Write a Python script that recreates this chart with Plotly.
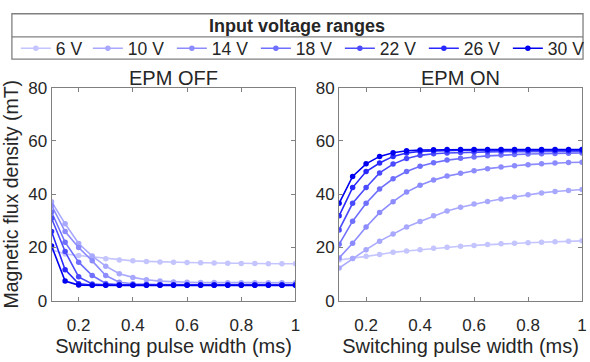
import plotly.graph_objects as go

x_ms = [0.10, 0.15, 0.20, 0.25, 0.30, 0.35, 0.40, 0.45, 0.50, 0.55,
        0.60, 0.65, 0.70, 0.75, 0.80, 0.85, 0.90, 0.95, 1.00]

voltages = ["6 V", "10 V", "14 V", "18 V", "22 V", "26 V", "30 V"]
colors = ["#c4c4ff", "#a8a8ff", "#8c8cff", "#7070ff", "#4a4aff", "#2828ff", "#0000f0"]
legend_widths = [27, 39, 39, 39, 39, 39, 37]

# EPM OFF (mT)
off_6 = [19.2, 17.6, 17.0, 16.5, 15.8, 15.3, 15.0, 14.8, 14.6, 14.5,
         14.4, 14.3, 14.2, 14.1, 14.0, 14.0, 13.9, 13.9, 13.9]
off_10 = [37.2, 28.9, 21.5, 16.8, 13.0, 10.2, 8.8, 7.9, 7.4, 7.1,
          7.0, 6.9, 6.9, 6.8, 6.8, 6.8, 6.8, 6.8, 6.8]
off_14 = [35.8, 26.0, 20.0, 15.0, 9.5, 7.0, 6.4, 6.2, 6.1, 6.1,
          6.1, 6.1, 6.1, 6.1, 6.1, 6.1, 6.1, 6.1, 6.1]
off_18 = [33.3, 22.0, 14.5, 9.5, 6.5, 6.1, 6.0, 6.0, 6.0, 6.0,
          6.0, 6.0, 6.0, 6.0, 6.0, 6.0, 6.0, 6.0, 6.0]
off_22 = [31.0, 18.5, 9.0, 6.3, 6.0, 5.9, 5.9, 5.9, 5.9, 5.9,
          5.9, 5.9, 5.9, 5.9, 5.9, 5.9, 5.9, 5.9, 5.9]
off_26 = [26.0, 11.7, 6.4, 5.9, 5.9, 5.9, 5.9, 5.9, 5.9, 5.9,
          5.9, 5.9, 5.9, 5.9, 5.9, 5.9, 5.9, 5.9, 5.9]
off_30 = [20.6, 7.4, 5.9, 5.8, 5.8, 5.8, 5.8, 5.8, 5.8, 5.8,
          5.8, 5.8, 5.8, 5.8, 5.8, 5.8, 5.8, 5.8, 5.8]

# EPM ON (mT)
on_6 = [15.3, 15.9, 16.7, 17.4, 18.2, 18.7, 19.2, 19.7, 20.1, 20.5,
        20.8, 21.1, 21.4, 21.6, 21.8, 22.0, 22.2, 22.4, 22.5]
on_10 = [12.3, 15.9, 19.2, 22.4, 25.1, 27.7, 29.8, 31.9, 33.7, 35.1,
         36.3, 37.3, 38.2, 39.0, 39.8, 40.5, 41.0, 41.4, 41.8]
on_14 = [16.1, 21.6, 27.7, 33.1, 37.2, 40.8, 43.4, 45.3, 46.8, 47.9,
         48.8, 49.6, 50.2, 50.7, 51.1, 51.4, 51.7, 51.9, 52.0]
on_18 = [21.2, 29.9, 36.6, 42.0, 45.8, 48.5, 50.5, 51.8, 52.8, 53.5,
         54.0, 54.4, 54.7, 54.9, 55.1, 55.2, 55.3, 55.4, 55.5]
on_22 = [26.6, 36.6, 42.5, 48.0, 51.3, 53.4, 54.6, 55.2, 55.5, 55.7,
         55.8, 55.9, 56.0, 56.0, 56.1, 56.1, 56.1, 56.1, 56.1]
on_26 = [31.9, 42.5, 48.5, 51.7, 54.2, 55.5, 56.1, 56.3, 56.4, 56.5,
         56.5, 56.5, 56.5, 56.5, 56.5, 56.5, 56.5, 56.5, 56.5]
on_30 = [36.6, 46.7, 51.4, 54.2, 55.6, 56.3, 56.6, 56.7, 56.8, 56.8,
         56.8, 56.8, 56.8, 56.8, 56.8, 56.8, 56.8, 56.8, 56.8]

off_series = [off_6, off_10, off_14, off_18, off_22, off_26, off_30]
on_series = [on_6, on_10, on_14, on_18, on_22, on_26, on_30]

x_ticks = [0.2, 0.4, 0.6, 0.8, 1.0]
x_ticklabels = ["0.2", "0.4", "0.6", "0.8", "1"]
y_ticks = [0, 20, 40, 60, 80]

FONT = "Liberation Sans, Arial, Helvetica, sans-serif"
TXT = "#262626"
AX = "#808080"
W, H = 590, 362

fig = go.Figure()
for i, (name, col) in enumerate(zip(voltages, colors)):
    fig.add_trace(go.Scatter(x=x_ms, y=off_series[i], mode="lines+markers", name=name,
                             line=dict(color=col, width=1.6), marker=dict(color=col, size=5.5),
                             xaxis="x", yaxis="y", legendgroup=name, showlegend=True,
                             legendwidth=legend_widths[i]))
for i, (name, col) in enumerate(zip(voltages, colors)):
    fig.add_trace(go.Scatter(x=x_ms, y=on_series[i], mode="lines+markers", name=name,
                             line=dict(color=col, width=1.6), marker=dict(color=col, size=5.5),
                             xaxis="x2", yaxis="y2", legendgroup=name, showlegend=False))

ydom = [1 - 308 / H, 1 - 83 / H]
xdom1 = [52 / W, 298 / W]
xdom2 = [342 / W, 587 / W]

axis_common = dict(showline=True, linecolor=AX, linewidth=1, mirror="ticks",
                   ticks="inside", ticklen=4, tickcolor=AX, showgrid=False, zeroline=False,
                   tickfont=dict(family=FONT, size=17, color=TXT))

fig.update_layout(
    width=W, height=H, margin=dict(l=0, r=0, t=0, b=0),
    paper_bgcolor="white", plot_bgcolor="white",
    font=dict(family=FONT, color=TXT),
    xaxis=dict(domain=xdom1, range=[0.1, 1.0], tickvals=x_ticks, ticktext=x_ticklabels,
               anchor="y", ticklabelstandoff=9,
               title=dict(text="Switching pulse width (ms)", font=dict(size=20, color=TXT), standoff=2),
               **axis_common),
    yaxis=dict(domain=ydom, range=[0, 80], tickvals=y_ticks, anchor="x",
               title=dict(text="Magnetic flux density (mT)", font=dict(size=19.5, color=TXT), standoff=4),
               **axis_common),
    xaxis2=dict(domain=xdom2, range=[0.1, 1.0], tickvals=x_ticks, ticktext=x_ticklabels,
                anchor="y2", ticklabelstandoff=9,
                title=dict(text="Switching pulse width (ms)", font=dict(size=20, color=TXT), standoff=2),
                **axis_common),
    yaxis2=dict(domain=ydom, range=[0, 80], tickvals=y_ticks, anchor="x2", **axis_common),
    legend=dict(orientation="h", x=16 / W, xanchor="left", y=1 - 41.5 / H, yanchor="middle",
                borderwidth=0, bgcolor="rgba(0,0,0,0)",
                font=dict(family=FONT, size=17.5, color=TXT),
                itemwidth=30, tracegroupgap=0),
    annotations=[
        dict(text="<b>Input voltage ranges</b>", x=299.5 / W, y=1 - 17.5 / H, xref="paper", yref="paper",
             showarrow=False, font=dict(family=FONT, size=18, color=TXT), xanchor="center", yanchor="middle"),
        dict(text="EPM OFF", x=(xdom1[0] + xdom1[1]) / 2, y=1 - 73 / H, xref="paper", yref="paper",
             showarrow=False, font=dict(family=FONT, size=20, color=TXT), xanchor="center", yanchor="middle"),
        dict(text="EPM ON", x=(xdom2[0] + xdom2[1]) / 2, y=1 - 73 / H, xref="paper", yref="paper",
             showarrow=False, font=dict(family=FONT, size=20, color=TXT), xanchor="center", yanchor="middle"),
    ],
    shapes=[
        dict(type="rect", xref="paper", yref="paper", x0=12 / W, x1=588 / W,
             y0=1 - 53 / H, y1=1 - 5 / H, line=dict(color=AX, width=1.3), fillcolor="rgba(0,0,0,0)",
             layer="below"),
        dict(type="line", xref="paper", yref="paper", x0=12 / W, x1=588 / W,
             y0=1 - 29.5 / H, y1=1 - 29.5 / H, line=dict(color=AX, width=1.3)),
    ],
)

fig.write_html("out.html")
